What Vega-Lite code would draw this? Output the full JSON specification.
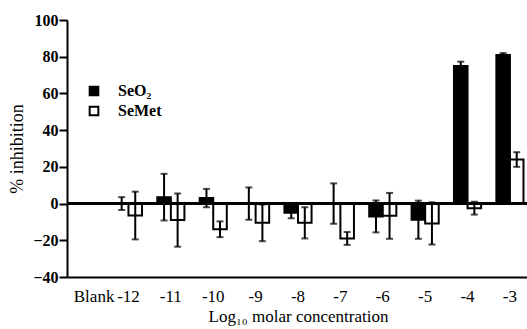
{
  "$schema": "https://vega.github.io/schema/vega-lite/v6.json",
  "width": 462,
  "height": 257,
  "autosize": {"type": "none"},
  "padding": {"left": 67, "top": 20, "right": 0, "bottom": 52},
  "background": "white",
  "config": {
    "view": {"stroke": null},
    "font": "Liberation Serif",
    "axis": {"domainColor": "black", "domainWidth": 2, "tickColor": "black", "tickWidth": 2, "labelColor": "black", "titleColor": "black", "grid": false, "labelFont": "Liberation Serif", "titleFont": "Liberation Serif"},
    "axisY": {"values": [-40, -20, 0, 20, 40, 60, 80, 100], "tickSize": 8, "labelPadding": 1, "labelFontWeight": "bold", "labelFontSize": 16, "titleFontWeight": "normal", "titleFontSize": 18, "titlePadding": 6}
  },
  "data": {
    "values": [
      {"conc": "-12", "compound": "SeO₂", "mean": 0, "lo": -3.5, "hi": 3.5},
      {"conc": "-12", "compound": "SeMet", "mean": -6.5, "lo": -19.5, "hi": 6.5},
      {"conc": "-11", "compound": "SeO₂", "mean": 3.5, "lo": -9.2, "hi": 16.2},
      {"conc": "-11", "compound": "SeMet", "mean": -9, "lo": -23.5, "hi": 5.5},
      {"conc": "-10", "compound": "SeO₂", "mean": 3, "lo": -2, "hi": 8},
      {"conc": "-10", "compound": "SeMet", "mean": -14, "lo": -18.3, "hi": -9.7},
      {"conc": "-9", "compound": "SeO₂", "mean": 0, "lo": -8.8, "hi": 8.8},
      {"conc": "-9", "compound": "SeMet", "mean": -10.5, "lo": -20.5, "hi": -0.5},
      {"conc": "-8", "compound": "SeO₂", "mean": -5, "lo": -8, "hi": -2},
      {"conc": "-8", "compound": "SeMet", "mean": -10.5, "lo": -19, "hi": -2},
      {"conc": "-7", "compound": "SeO₂", "mean": 0, "lo": -11, "hi": 11},
      {"conc": "-7", "compound": "SeMet", "mean": -19, "lo": -22.5, "hi": -15.5},
      {"conc": "-6", "compound": "SeO₂", "mean": -7, "lo": -15.7, "hi": 1.7},
      {"conc": "-6", "compound": "SeMet", "mean": -6.7, "lo": -19.2, "hi": 5.8},
      {"conc": "-5", "compound": "SeO₂", "mean": -8.8, "lo": -19.2, "hi": 1.6},
      {"conc": "-5", "compound": "SeMet", "mean": -10.8, "lo": -22.3, "hi": 0.7},
      {"conc": "-4", "compound": "SeO₂", "mean": 75, "lo": 72.7, "hi": 77.3},
      {"conc": "-4", "compound": "SeMet", "mean": -2.5, "lo": -6, "hi": 1},
      {"conc": "-3", "compound": "SeO₂", "mean": 81, "lo": 80, "hi": 82},
      {"conc": "-3", "compound": "SeMet", "mean": 24, "lo": 20, "hi": 28}
    ]
  },
  "encoding": {
    "x": {
      "field": "conc", "type": "nominal", "sort": null,
      "scale": {"domain": ["Blank", "-12", "-11", "-10", "-9", "-8", "-7", "-6", "-5", "-4", "-3"], "paddingInner": 0.36, "paddingOuter": 0.13},
      "axis": {"title": "Log₁₀ molar concentration", "labelAngle": 0, "ticks": false, "labelPadding": 11, "labelFontWeight": "normal", "labelFontSize": 17, "titleFontWeight": "normal", "titleFontSize": 17, "titlePadding": 4,
        "labelOffset": {"condition": {"test": "datum.value === 'Blank'", "value": 8}, "value": 0}}
    },
    "xOffset": {"field": "compound", "type": "nominal", "sort": ["SeO₂", "SeMet"], "scale": {"domain": ["SeO₂", "SeMet"], "paddingInner": 0}}
  },
  "layer": [
    {
      "mark": {"type": "bar", "stroke": "black", "strokeWidth": 2},
      "encoding": {
        "y": {"field": "mean", "type": "quantitative", "title": "% inhibition",
          "scale": {"domain": [-40, 100], "nice": false, "zero": true}},
        "fill": {"field": "compound", "type": "nominal", "sort": ["SeO₂", "SeMet"],
          "scale": {"domain": ["SeO₂", "SeMet"], "range": ["black", "white"]},
          "legend": {"title": null, "orient": "none", "legendX": 19, "legendY": 63, "symbolType": "square", "symbolSize": 75, "symbolStrokeColor": "black", "symbolStrokeWidth": 2, "labelFontSize": 16, "labelFont": "Liberation Serif", "labelFontWeight": "bold", "labelColor": "black", "rowPadding": 2, "labelOffset": 16}}
      }
    },
    {
      "mark": {"type": "rule", "color": "black", "strokeWidth": 2},
      "encoding": {
        "y": {"field": "lo", "type": "quantitative", "title": "% inhibition"},
        "y2": {"field": "hi"}
      }
    },
    {
      "mark": {"type": "tick", "color": "black", "thickness": 2, "size": 7},
      "encoding": {
        "y": {"field": "lo", "type": "quantitative", "title": "% inhibition"}
      }
    },
    {
      "mark": {"type": "tick", "color": "black", "thickness": 2, "size": 7},
      "encoding": {
        "y": {"field": "hi", "type": "quantitative", "title": "% inhibition"}
      }
    },
    {
      "mark": {"type": "rule", "color": "black", "strokeWidth": 2},
      "encoding": {"y": {"datum": 0, "title": "% inhibition"}, "x": null, "xOffset": null}
    }
  ]
}
